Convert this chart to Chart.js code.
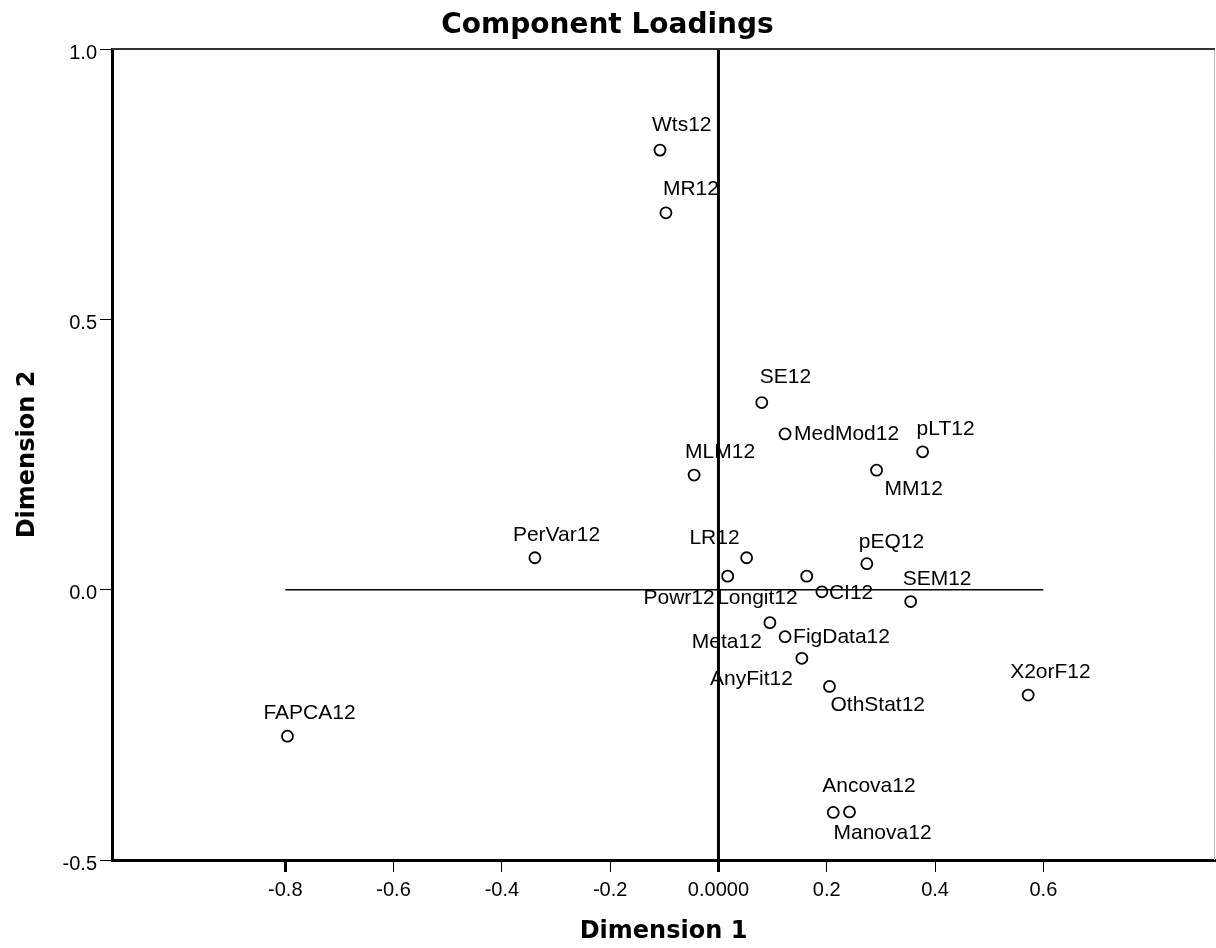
<!DOCTYPE html>
<html>
<head>
<meta charset="utf-8">
<title>Component Loadings</title>
<script src="https://cdn.jsdelivr.net/npm/chart.js@4.4.1/dist/chart.umd.min.js"></script>
<style>
  html, body { margin: 0; padding: 0; background: #fff; }
  canvas { display: block; }
</style>
</head>
<body>
<canvas id="chart" width="1216" height="948"></canvas>
<script>
// component loadings
const varNames = ['Wts12', 'MR12', 'SE12', 'MedMod12', 'pLT12', 'MM12', 'MLM12', 'PerVar12',
    'LR12', 'Powr12', 'Longit12', 'CI12', 'pEQ12', 'SEM12', 'Meta12', 'FigData12',
    'AnyFit12', 'OthStat12', 'X2orF12', 'FAPCA12', 'Ancova12', 'Manova12'];
const dim1 = [-0.108, -0.097, 0.080, 0.123, 0.377, 0.292, -0.045, -0.339,
    0.052, 0.017, 0.163, 0.191, 0.274, 0.355, 0.095, 0.123,
    0.154, 0.205, 0.572, -0.796, 0.212, 0.242];
const dim2 = [0.813, 0.697, 0.346, 0.288, 0.255, 0.221, 0.212, 0.059,
    0.059, 0.025, 0.025, -0.004, 0.048, -0.022, -0.061, -0.087,
    -0.127, -0.179, -0.195, -0.271, -0.412, -0.411];

const xTickValues = [-0.8, -0.6, -0.4, -0.2, 0.0, 0.2, 0.4, 0.6];
const yTickValues = [-0.5, 0.0, 0.5, 1.0];
const xMin = -1.12, xMax = 0.917;
const yMin = -0.5, yMax = 1.0;

// where each label sits relative to its marker: [align, dx, dy]
const labelPlacement = {
    Wts12: ['left', -8, -25], MR12: ['left', -3, -24], SE12: ['left', -2, -25],
    MedMod12: ['left', 9, 0], pLT12: ['left', -6, -23], MM12: ['left', 8, 19],
    MLM12: ['left', -9, -23], PerVar12: ['left', -22, -23], LR12: ['right', -7, -20],
    Powr12: ['right', -13, 22], Longit12: ['right', -9, 22], CI12: ['left', 7, 1],
    pEQ12: ['left', -8, -22], SEM12: ['left', -8, -22], Meta12: ['right', -8, 20],
    FigData12: ['left', 8, 0], AnyFit12: ['right', -9, 21], OthStat12: ['left', 1, 19],
    X2orF12: ['left', -18, -23], FAPCA12: ['left', -24, -23],
    Ancova12: ['left', -11, -26], Manova12: ['left', -16, 21]
};

const sansFont = '"Liberation Sans", Arial, sans-serif';
const boldFont = '"DejaVu Sans", Verdana, sans-serif';

const whiteBackground = {
    id: 'whiteBackground',
    beforeDraw(chart) {
        const ctx = chart.ctx;
        ctx.save();
        ctx.fillStyle = '#fff';
        ctx.fillRect(0, 0, chart.width, chart.height);
        ctx.restore();
    }
};

const pointLabels = {
    id: 'pointLabels',
    beforeDatasetsDraw(chart) {
        const ctx = chart.ctx;
        const meta = chart.getDatasetMeta(0);
        ctx.save();
        ctx.font = '21px ' + sansFont;
        ctx.fillStyle = '#000';
        ctx.textBaseline = 'middle';
        meta.data.forEach((pt, i) => {
            const [align, dx, dy] = labelPlacement[varNames[i]];
            ctx.textAlign = align;
            ctx.fillText(varNames[i], pt.x + dx, pt.y + dy);
        });
        ctx.restore();
    }
};

const plotFrame = {
    id: 'plotFrame',
    afterDraw(chart) {
        const { ctx, chartArea: a } = chart;
        ctx.save();
        ctx.strokeStyle = '#bbb';
        ctx.lineWidth = 1;
        ctx.beginPath();
        ctx.moveTo(a.right - 0.5, a.top);
        ctx.lineTo(a.right - 0.5, a.bottom);
        ctx.stroke();
        ctx.strokeStyle = '#333';
        ctx.lineWidth = 2;
        ctx.beginPath();
        ctx.moveTo(a.left, a.top);
        ctx.lineTo(a.right, a.top);
        ctx.stroke();
        ctx.restore();
    }
};

const canvas = document.getElementById('chart');
new Chart(canvas, {
    type: 'scatter',
    data: {
        datasets: [
            {
                label: 'Loadings',
                data: varNames.map((n, i) => ({ x: dim1[i], y: dim2[i] })),
                pointRadius: 5.5,
                pointHoverRadius: 5.5,
                pointBorderWidth: 1.8,
                borderColor: '#000',
                backgroundColor: 'rgba(0,0,0,0)'
            },
            {
                type: 'line',
                data: [{ x: 0, y: yMin }, { x: 0, y: yMax }],
                borderColor: '#000',
                borderWidth: 3,
                pointRadius: 0
            },
            {
                type: 'line',
                data: [{ x: xTickValues[0], y: 0 }, { x: xTickValues[xTickValues.length - 1], y: 0 }],
                borderColor: '#000',
                borderWidth: 1.5,
                pointRadius: 0
            }
        ]
    },
    options: {
        responsive: false,
        animation: false,
        devicePixelRatio: 1,
        layout: { autoPadding: false, padding: { left: 0, right: 1, top: 0, bottom: 0 } },
        plugins: {
            legend: { display: false },
            tooltip: { enabled: false },
            title: {
                display: true,
                text: 'Component Loadings',
                color: '#000',
                font: { family: boldFont, size: 28, weight: 'bold' },
                padding: { top: 8.7, bottom: 6.7 }
            }
        },
        scales: {
            x: {
                type: 'linear',
                min: xMin,
                max: xMax,
                afterBuildTicks: s => { s.ticks = xTickValues.map(v => ({ value: v })); },
                afterFit: s => { s.height = 88; s.paddingLeft = 0; s.paddingRight = 0; },
                grid: {
                    drawOnChartArea: false,
                    drawTicks: true,
                    tickLength: 12,
                    color: '#000',
                    lineWidth: c => (c.tick && (c.tick.value === 0 || c.tick.value === -0.8)) ? 3 : 1
                },
                border: { color: '#000', width: 3 },
                ticks: {
                    color: '#000',
                    font: { family: sansFont, size: 20 },
                    padding: 6,
                    maxRotation: 0,
                    autoSkip: false,
                    callback: v => v === 0 ? '0.0000' : v.toFixed(1)
                },
                title: {
                    display: true,
                    text: 'Dimension 1',
                    color: '#000',
                    font: { family: boldFont, size: 24, weight: 'bold' },
                    padding: { top: 0, bottom: 2 }
                }
            },
            y: {
                type: 'linear',
                min: yMin,
                max: yMax,
                afterBuildTicks: s => { s.ticks = yTickValues.map(v => ({ value: v })); },
                afterFit: s => { s.width = 112; s.paddingTop = 0; s.paddingBottom = 0; },
                grid: {
                    drawOnChartArea: false,
                    drawTicks: true,
                    tickLength: 12,
                    color: '#000',
                    lineWidth: 1
                },
                border: { color: '#000', width: 3 },
                ticks: {
                    color: '#000',
                    font: { family: sansFont, size: 20 },
                    padding: 3,
                    labelOffset: 4,
                    callback: v => v.toFixed(1)
                },
                title: {
                    display: true,
                    text: 'Dimension 2',
                    color: '#000',
                    font: { family: boldFont, size: 24, weight: 'bold' },
                    padding: { top: 13, bottom: 0 }
                }
            }
        }
    },
    plugins: [whiteBackground, pointLabels, plotFrame]
});
</script>
</body>
</html>
